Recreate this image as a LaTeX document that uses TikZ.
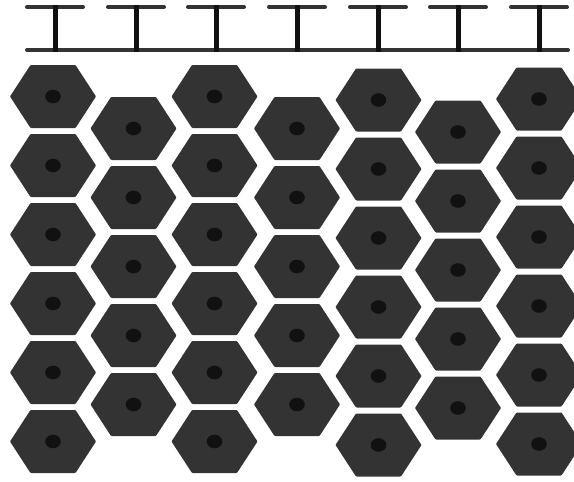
\documentclass[tikz,border=0pt]{standalone}
\definecolor{barc}{HTML}{333333}
\definecolor{stemc}{HTML}{111111}
\definecolor{hexc}{HTML}{333333}
\definecolor{dotc}{HTML}{111111}
\begin{document}
\begin{tikzpicture}[x=1pt,y=-1pt,
  bar/.style={draw=barc, line width=4pt, line cap=round},
  stemline/.style={draw=stemc, line width=5pt},
  hexcell/.style={fill=hexc, rounded corners=0.8pt},
  nucleus/.style={fill=dotc}]
\useasboundingbox (0,0) rectangle (574,482);
\draw[bar] (27,50) -- (568,50);
\foreach \x in {55,136,216,297,378,458,539} {
  \draw[bar] (\x-28,7) -- (\x+28,7);
}
\foreach \x in {55,136,216,297,378,458,539} {
  \draw[stemline] (\x,5) -- (\x,52);
}
\foreach \x/\y/\n in {53/96.5/6, 133.5/128.5/5, 214.5/96.5/6, 297/128.5/5, 378.5/100/6, 458/132/5, 539/99/6} {
  \foreach \i in {1,...,\n} {
    \pgfmathsetmacro\yy{\y+69*(\i-1)}
    \fill[hexcell] (\x-43,\yy) -- (\x-22.5,\yy-31.5) -- (\x+22.5,\yy-31.5) -- (\x+43,\yy) -- (\x+22.5,\yy+31.5) -- (\x-22.5,\yy+31.5) -- cycle;
    \fill[nucleus] (\x,\yy) ellipse (7.8 and 6.8);
  }
}
\end{tikzpicture}
\end{document}
